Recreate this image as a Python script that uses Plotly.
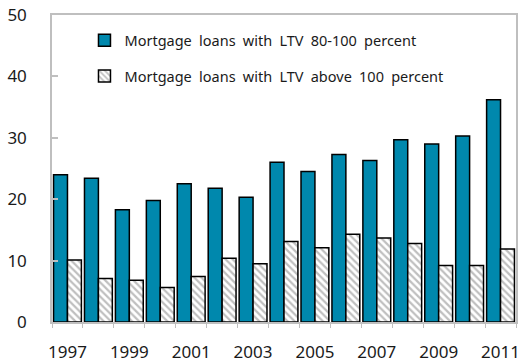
import plotly.graph_objects as go

# Share of new mortgage loans by loan-to-value band, 1997-2011
years = list(range(1997, 2012))
ltv_80_100 = [24.0, 23.4, 18.3, 19.8, 22.5, 21.8, 20.3, 26.0, 24.5, 27.3, 26.3, 29.7, 29.0, 30.3, 36.2]
ltv_above_100 = [10.1, 7.1, 6.8, 5.6, 7.4, 10.4, 9.5, 13.1, 12.1, 14.3, 13.7, 12.8, 9.2, 9.2, 11.9]
year_ticks = [1997, 1999, 2001, 2003, 2005, 2007, 2009, 2011]
value_ticks = [0, 10, 20, 30, 40, 50]

FONT = "Noto Sans"
AXIS_GREY = "#bfbfbf"
WIDE = "\u2002"  # en space for the airy word spacing of the labels


def spaced(text):
    return text.replace(" ", WIDE)


fig = go.Figure()
fig.add_trace(go.Bar(
    x=years, y=ltv_80_100,
    name=spaced("Mortgage loans with LTV 80-100 percent"),
    legendgroup="a",
    marker=dict(color="#0088ad", line=dict(color="black", width=1.5)),
))
fig.add_trace(go.Bar(
    x=years, y=ltv_above_100,
    name=spaced("Mortgage loans with LTV above 100 percent"),
    legendgroup="b",
    marker=dict(
        color="white",
        line=dict(color="black", width=1.5),
        pattern=dict(shape="\\", fgcolor="#7f7f7f", bgcolor="white", size=5, solidity=0.45),
    ),
))

fig.add_annotation(
    text=spaced("(Percent of total new mortgage)"),
    xref="paper", yref="paper", x=-0.065, y=1.0, yshift=14,
    xanchor="left", yanchor="bottom",
    showarrow=False, font=dict(family=FONT, size=20, color="#1f7fd4"),
)

fig.update_layout(
    width=522, height=362,
    margin=dict(l=52, r=6, t=15, b=40),
    paper_bgcolor="white", plot_bgcolor="white",
    font=dict(family=FONT, size=17, color="#1a1a1a"),
    barmode="group", bargap=0.1, bargroupgap=0.0,
    showlegend=True,
    legend=dict(
        x=0.07, y=0.97, xanchor="left", yanchor="top",
        bgcolor="rgba(0,0,0,0)", font=dict(family=FONT, size=14.5, color="#1a1a1a"),
        tracegroupgap=14, itemwidth=30,
    ),
    xaxis=dict(
        range=[1996.5, 2011.5], automargin=False,
        tickmode="array", tickvals=year_ticks, ticktext=[str(y) for y in year_ticks],
        ticks="", ticklabelstandoff=14,
        minor=dict(ticks="outside", ticklen=4, tickcolor=AXIS_GREY, tick0=1996.5, dtick=1, showgrid=False),
        showline=True, linecolor=AXIS_GREY, linewidth=1.5, mirror=True,
        showgrid=False, zeroline=False,
        tickfont=dict(size=17),
    ),
    yaxis=dict(
        range=[0, 50], automargin=False,
        tickmode="array", tickvals=value_ticks,
        ticks="inside", ticklen=6, tickcolor=AXIS_GREY, tickwidth=1.5,
        ticklabelstandoff=20,
        showline=True, linecolor=AXIS_GREY, linewidth=1.5, mirror=True,
        showgrid=False, zeroline=False,
        tickfont=dict(size=17),
    ),
)

fig.write_html("out.html")
